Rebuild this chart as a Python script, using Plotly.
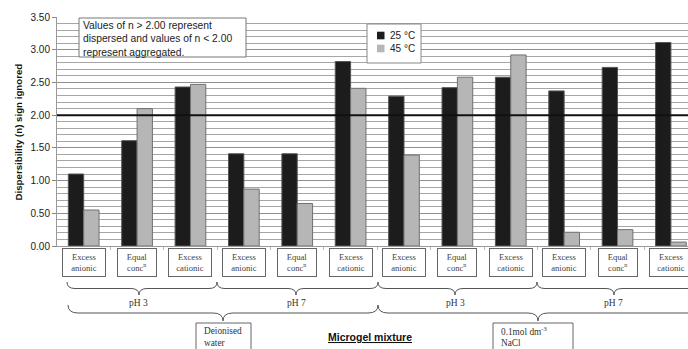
import plotly.graph_objects as go

# ---- data ----
positions = list(range(12))
mixture_labels = ["Excess<br>anionic", "Equal<br>conc<sup>n</sup>", "Excess<br>cationic"] * 4
ph_labels = ["pH 3", "pH 7", "pH 3", "pH 7"]
medium_labels = [["Deionised", "water"], ["0.1mol dm<sup>-3</sup>", "NaCl"]]
series_names = ["25 °C", "45 °C"]
n_25C = [1.10, 1.61, 2.43, 1.41, 1.41, 2.82, 2.29, 2.42, 2.58, 2.37, 2.73, 3.11]
n_45C = [0.55, 2.10, 2.47, 0.87, 0.65, 2.41, 1.39, 2.58, 2.92, 0.21, 0.25, 0.06]
y_ticks = [0.0, 0.5, 1.0, 1.5, 2.0, 2.5, 3.0, 3.5]

# ---- page geometry (pixels) ----
W, H = 688, 349
L, R, T, B = 57, 688, 17, 246


def px(x):
    return (x - L) / (R - L)


def py(y):
    return (B - y) / (B - T)


SANS = "Liberation Sans, Arial, sans-serif"
SERIF = "Liberation Serif, Times New Roman, serif"
BLACK = "#1c1c1c"
GREY = "#b6b6b6"

fig = go.Figure()
fig.add_trace(go.Bar(x=positions, y=n_25C, name=series_names[0],
                     marker=dict(color=BLACK, line=dict(color="#555", width=1)), showlegend=False))
fig.add_trace(go.Bar(x=positions, y=n_45C, name=series_names[1],
                     marker=dict(color=GREY, line=dict(color="#707070", width=1)), showlegend=False))

shapes = []
annotations = []

# threshold line n = 2.00, drawn over the bars
shapes.append(dict(type="line", xref="paper", yref="y", x0=0, x1=1, y0=2.0, y1=2.0,
                   line=dict(color="#111", width=2), layer="above"))

# explanatory note
shapes.append(dict(type="rect", xref="paper", yref="paper", x0=px(79), x1=px(246), y0=py(18), y1=py(57),
                   fillcolor="white", line=dict(color="#777", width=1), layer="above"))
annotations.append(dict(xref="paper", yref="paper", x=px(81), y=py(18.5), xanchor="left", yanchor="top",
                        align="left", showarrow=False,
                        text="Values of n &gt; 2.00 represent<br>dispersed and values of n &lt; 2.00<br>represent aggregated.",
                        font=dict(family=SANS, size=10.3, color="#222")))

# legend box
shapes.append(dict(type="rect", xref="paper", yref="paper", x0=px(367), x1=px(421), y0=py(24), y1=py(63),
                   fillcolor="white", line=dict(color="#888", width=1), layer="above"))
for k, (col, yc) in enumerate([(BLACK, 35.5), (GREY, 48.5)]):
    shapes.append(dict(type="rect", xref="paper", yref="paper", x0=px(377), x1=px(384.5),
                       y0=py(yc - 3.8), y1=py(yc + 3.8), fillcolor=col, line=dict(width=0), layer="above"))
    annotations.append(dict(xref="paper", yref="paper", x=px(388.5), y=py(yc), xanchor="left", yanchor="middle",
                            showarrow=False, text=series_names[k], font=dict(family=SANS, size=10, color="#222")))

# mixture boxes under each category
for i, lab in enumerate(mixture_labels):
    w = 36 if i % 3 == 1 else 40
    annotations.append(dict(xref="x", yref="paper", x=positions[i], y=py(248), xanchor="center", yanchor="top",
                            showarrow=False, text=lab, width=w, height=25, borderpad=1,
                            bordercolor="#666", borderwidth=1, bgcolor="white",
                            font=dict(family=SERIF, size=8.6, color="#444")))


def brace(x0, x1, xm, y0, y1, r=8):
    ym = (y0 + y1) / 2
    p = [("M", x0, y0), ("Q", x0, ym), ("", x0 + r, ym), ("L", xm - r, ym), ("Q", xm, ym), ("", xm, y1),
         ("Q", xm, ym), ("", xm + r, ym), ("L", x1 - r, ym), ("Q", x1, ym), ("", x1, y0)]
    s = ""
    for cmd, x, y in p:
        s += f"{cmd}{px(x):.5f},{py(y):.5f} "
    return dict(type="path", xref="paper", yref="paper", path=s.strip(),
                line=dict(color="#555", width=1), layer="above")


# pH braces
for x0, x1, xm in [(67, 217, 139), (217, 378, 296), (378, 537, 455), (537, 695, 614)]:
    shapes.append(brace(x0, x1, xm, 282, 295))
for lab, xc in zip(ph_labels, [138, 296.5, 455.5, 613]):
    annotations.append(dict(xref="paper", yref="paper", x=px(xc), y=py(303), xanchor="center", yanchor="middle",
                            showarrow=False, text=lab, font=dict(family=SERIF, size=9.5, color="#333")))

# medium braces and boxes
shapes.append(brace(68, 378, 223, 305, 321, r=10))
shapes.append(brace(378, 698, 538, 305, 321, r=10))
for lines, (bx0, bx1) in zip(medium_labels, [(196, 251), (493, 573)]):
    shapes.append(dict(type="rect", xref="paper", yref="paper", x0=px(bx0), x1=px(bx1), y0=py(323), y1=py(355),
                       fillcolor="white", line=dict(color="#666", width=1), layer="above"))
    for line_text, yc in zip(lines, [331, 343]):
        annotations.append(dict(xref="paper", yref="paper", x=px(bx0 + 6), y=py(yc), xanchor="left",
                                yanchor="middle", align="left", showarrow=False, text=line_text,
                                font=dict(family=SERIF, size=9.3, color="#333")))

annotations.append(dict(xref="paper", yref="paper", x=px(370), y=py(337), xanchor="center", yanchor="middle",
                        showarrow=False, text="<b><u>Microgel mixture</u></b>",
                        font=dict(family=SANS, size=10.5, color="#111")))

# axis title
annotations.append(dict(xref="paper", yref="paper", x=px(17.5), y=py(132), xanchor="center", yanchor="middle",
                        textangle=-90, showarrow=False, text="<b>Dispersibility (n) sign ignored</b>",
                        font=dict(family=SANS, size=9.7, color="#111")))

fig.update_layout(
    width=W, height=H, autosize=False,
    margin=dict(l=L, r=W - R, t=T, b=H - B),
    paper_bgcolor="white", plot_bgcolor="white",
    barmode="group", bargap=0.425, bargroupgap=0,
    shapes=shapes, annotations=annotations,
    xaxis=dict(range=[-0.5, 11.32], showticklabels=False, showgrid=False, zeroline=False,
               tickvals=[i + 0.5 for i in range(11)], ticks="outside", ticklen=3, tickcolor="#bbb",
               showline=True, linecolor="#999", linewidth=1),
    yaxis=dict(range=[0, 3.5], tickvals=y_ticks, tickformat=".2f", ticks="outside", ticklen=4,
               tickcolor="#888", showline=True, linecolor="#999", linewidth=1,
               showgrid=True, gridcolor="#8f8f8f", gridwidth=1, zeroline=False,
               minor=dict(dtick=0.1, tick0=0, showgrid=True, gridcolor="#a6a6a6", gridwidth=1),
               tickfont=dict(family=SANS, size=10, color="#222")),
    font=dict(family=SANS),
)

fig.write_html("out.html")
